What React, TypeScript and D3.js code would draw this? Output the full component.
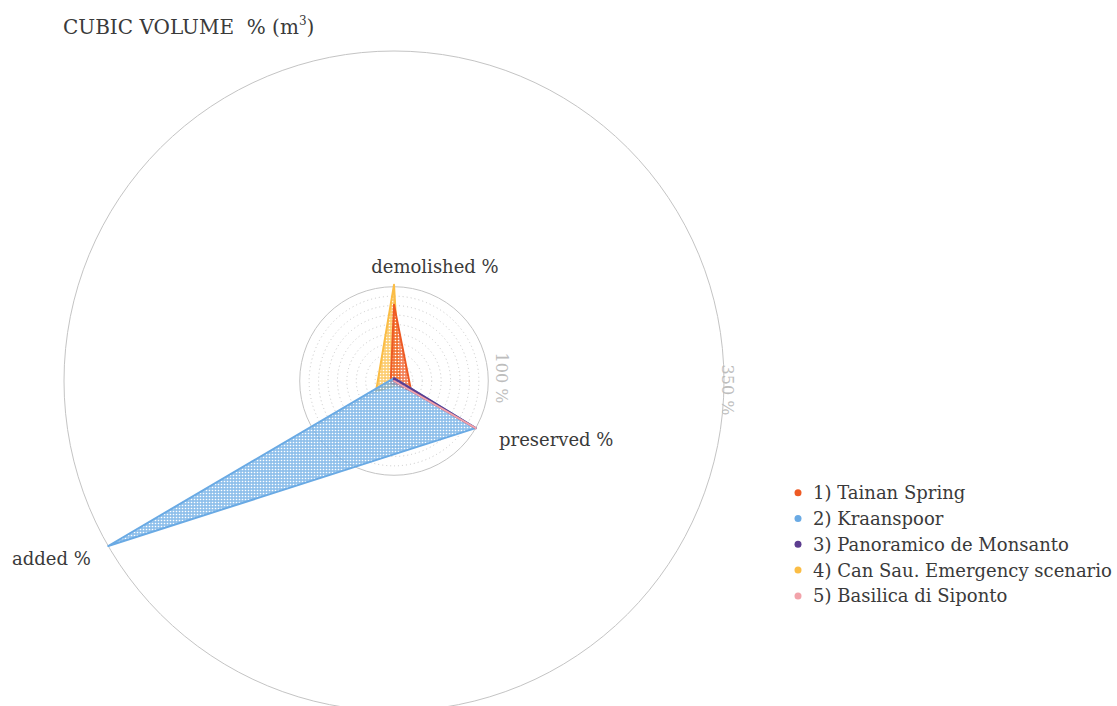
import React from "react";
import * as d3 from "d3";

const axes = ["demolished %", "preserved %", "added %"];
const seriesNames = [
  "1) Tainan Spring",
  "2) Kraanspoor",
  "3) Panoramico de Monsanto",
  "4) Can Sau. Emergency scenario",
  "5) Basilica di Siponto",
];
const seriesColors = ["#ee5a24", "#6aaae4", "#5c3d8f", "#fbbd45", "#f2a3aa"];
const tainan = [81, 21, 4];
const kraanspoor = [3, 100, 350];
const panoramico = [3, 100, 0];
const canSau = [102, 7, 22];
const basilica = [0, 100, 0];
const seriesValues = [tainan, kraanspoor, panoramico, canSau, basilica];
const drawOrder = [3, 0, 1, 2, 4];
const gridTicks = [10, 20, 30, 40, 50, 60, 70, 80, 90];
const ringTicks = [100, 350];
const ringLabels = ["100 %", "350 %"];

const W = 1117;
const H = 706;
const cx = 394;
const cy = 381;
const FONT = "'DejaVu Serif', serif";
const FS = 18;

export default function App() {
  const r = d3.scaleLinear().domain([0, 350]).range([0, 330]);
  const angle = d3
    .scalePoint<string>()
    .domain(axes)
    .range([0, (2 * Math.PI * 2) / 3]);
  const pt = (a: number, v: number): [number, number] => [
    cx + r(v) * Math.sin(a),
    cy - r(v) * Math.cos(a),
  ];
  const line = d3
    .lineRadial<number>()
    .angle((_, i) => angle(axes[i]) as number)
    .radius((v) => r(v))
    .curve(d3.curveLinearClosed);

  const labelPos: { x: number; y: number; anchor: string }[] = [
    { x: 435, y: 273, anchor: "middle" },
    { x: 499, y: 446, anchor: "start" },
    { x: 12, y: 565, anchor: "start" },
  ];
  const ringLabelPos = [
    { x: 496, y: cy - 3 },
    { x: 722, y: cy + 9 },
  ];

  return (
    <svg
      width={W}
      height={H}
      style={{ position: "absolute", left: 0, top: 0, background: "#fff" }}
    >
      <defs>
        {seriesColors.map((c, i) => (
          <pattern
            key={i}
            id={`pat-${i}`}
            width={3}
            height={3}
            patternUnits="userSpaceOnUse"
          >
            <rect width={3} height={3} fill={c} opacity={0.75} />
            <circle cx={1.5} cy={1.5} r={0.8} fill="#fff" />
          </pattern>
        ))}
      </defs>
      <text
        x={63}
        y={34}
        fontSize={20}
        fill="#3a3a3a"
        style={{ whiteSpace: "pre", fontFamily: FONT }}
      >
        {"CUBIC VOLUME\u00a0\u00a0% (m"}
        <tspan fontSize={12} dy={-9}>3</tspan>
        <tspan dy={9}>)</tspan>
      </text>

      {gridTicks.map((t) => (
        <circle
          key={t}
          cx={cx}
          cy={cy}
          r={r(t)}
          fill="none"
          stroke="#c8c8c8"
          strokeWidth={1}
          strokeDasharray="1 3"
        />
      ))}
      {ringTicks.map((t) => (
        <circle
          key={t}
          cx={cx}
          cy={cy}
          r={r(t)}
          fill="none"
          stroke="#c4c4c4"
          strokeWidth={1}
        />
      ))}
      {axes.map((a) => {
        const [x, y] = pt(angle(a) as number, 100);
        return (
          <line key={a} x1={cx} y1={cy} x2={x} y2={y} stroke="#cfcfcf" strokeWidth={1} />
        );
      })}
      {ringTicks.map((t, i) => (
        <text
          key={t}
          transform={`translate(${ringLabelPos[i].x},${ringLabelPos[i].y}) rotate(90)`}
          textAnchor="middle"
          fontSize={16}
          fill="#bdbdbd"
          style={{ fontFamily: FONT }}
        >
          {ringLabels[i]}
        </text>
      ))}

      {drawOrder.map((i) => (
        <path
          key={i}
          d={line(seriesValues[i]) || ""}
          transform={`translate(${cx},${cy})`}
          fill={`url(#pat-${i})`}
          stroke={seriesColors[i]}
          strokeWidth={2}
          strokeLinejoin="round"
        />
      ))}

      {axes.map((a, i) => (
        <text
          key={a}
          x={labelPos[i].x}
          y={labelPos[i].y}
          textAnchor={labelPos[i].anchor as any}
          fontSize={FS}
          fill="#3a3a3a"
          style={{ fontFamily: FONT }}
        >
          {a}
        </text>
      ))}

      {seriesNames.map((n, i) => (
        <g key={n} transform={`translate(798,${492.7 + i * 25.8})`}>
          <circle r={3.5} fill={seriesColors[i]} />
          <text x={15} y={6.5} fontSize={FS} fill="#3a3a3a" style={{ fontFamily: FONT }}>
            {n}
          </text>
        </g>
      ))}
    </svg>
  );
}
